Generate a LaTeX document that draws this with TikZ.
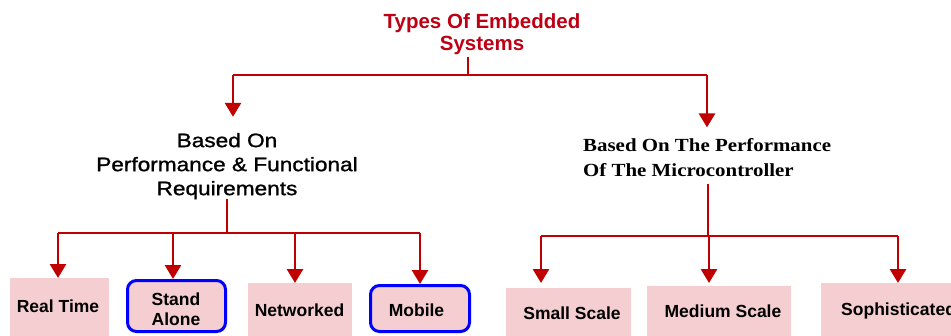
\documentclass[tikz,border=0pt]{standalone}
\usepackage{fontspec}
\setmainfont{Liberation Sans}
\newfontfamily\midsans[FakeStretch=1.16,FakeBold=1.2]{Liberation Sans}
\newfontfamily\midserif[FakeStretch=1.13]{Liberation Serif}
\usetikzlibrary{arrows.meta,calc}
\definecolor{dred}{RGB}{192,0,0}
\definecolor{tred}{RGB}{190,0,20}
\definecolor{boxpink}{RGB}{244,206,208}
\definecolor{bblue}{RGB}{0,0,255}
\begin{document}
\begin{tikzpicture}[x=1pt,y=-1pt,
  conn/.style={draw=dred,line width=2.8pt},
  arr/.style={conn,-{Triangle[width=16pt,length=14pt]}},
  pinkbox/.style={fill=boxpink,draw=none,inner sep=0pt,outer sep=0pt},
  bluebox/.style={fill=boxpink,draw=bblue,line width=3pt,rounded corners=9pt,inner sep=0pt,outer sep=1.5pt},
  boxtext/.style={font=\bfseries\fontsize{17.5}{20}\selectfont,inner sep=0pt,align=center},
]
\useasboundingbox (0,0) rectangle (951,335);
\clip (0,0) rectangle (951,335);

% title
\node[font=\bfseries\fontsize{20.5}{22}\selectfont,text=tred,align=center,anchor=north,inner sep=0pt]
  (title) at (482,13) {Types Of Embedded\\Systems};

% middle level
\node[font=\midsans\fontsize{19.5}{24}\selectfont,align=center,anchor=north,inner sep=0pt]
  (lm) at (227,132.8) {Based On\\Performance \& Functional\\Requirements};
\node[font=\midserif\bfseries\fontsize{18.5}{25}\selectfont,align=left,anchor=north west,inner sep=0pt]
  (rm) at (583,138.4) {Based On The Performance\\Of The Microcontroller};

% bottom boxes
\node[pinkbox,minimum width=99pt,minimum height=62pt] (rt) at (59.5,309) {};
\node[bluebox,minimum width=98pt,minimum height=51pt] (sa) at (176.5,306) {};
\node[pinkbox,minimum width=104pt,minimum height=57pt] (nw) at (300,311.5) {};
\node[bluebox,minimum width=99pt,minimum height=46pt] (mb) at (420,308.5) {};
\node[pinkbox,minimum width=125pt,minimum height=52pt] (ss) at (568.5,314) {};
\node[pinkbox,minimum width=144pt,minimum height=54pt] (ms) at (719,313) {};
\node[pinkbox,minimum width=149pt,minimum height=57pt] (so) at (895.5,311.5) {};

\node[boxtext,anchor=base] (trt) at (58,312) {Real Time};
\node[boxtext,anchor=north] (tsa) at (176,292.2) {Stand\\Alone};
\node[boxtext,anchor=base] (tnw) at (299.5,316) {Networked};
\node[boxtext,anchor=base] (tmb) at (416.5,316) {Mobile};
\node[boxtext,anchor=base] (tss) at (572,319) {Small Scale};
\node[boxtext,anchor=base] (tms) at (723,317) {Medium Scale};
\node[boxtext,anchor=base west] (tso) at (841,315) {Sophisticated};

% top connectors
\coordinate (tj) at (468,75);
\coordinate (tl) at (233,75);
\coordinate (tr) at (707,75);
\draw[conn] ([yshift=-2pt]tj |- title.south) -- (tj);
\draw[conn] (tl) -- (tr);
\draw[arr] (tl) -- ([yshift=16pt]tl |- lm.north);
\draw[arr] (tr) -- ([yshift=11pt]tr |- rm.north);

% left group connectors
\coordinate (lj) at (227,233);
\coordinate (l1) at (58,233);
\coordinate (l2) at (173,233);
\coordinate (l3) at (295,233);
\coordinate (l4) at (420,233);
\draw[conn] (lm.south) -- (lj);
\draw[conn] (l1) -- (l4);
\draw[arr] (l1) -- (l1 |- rt.north);
\draw[arr] (l2) -- (l2 |- sa.north);
\draw[arr] (l3) -- (l3 |- nw.north);
\draw[arr] (l4) -- (l4 |- mb.north);

% right group connectors
\coordinate (rj) at (708,236);
\coordinate (r1) at (541,236);
\coordinate (r2) at (709,236);
\coordinate (r3) at (898,236);
\draw[conn] ([yshift=-7pt]rj |- rm.south) -- (rj);
\draw[conn] (r1) -- (r3);
\draw[arr] (r1) -- ([yshift=5pt]r1 |- ss.north);
\draw[arr] (r2) -- ([yshift=3pt]r2 |- ms.north);
\draw[arr] (r3) -- (r3 |- so.north);
\end{tikzpicture}
\end{document}
